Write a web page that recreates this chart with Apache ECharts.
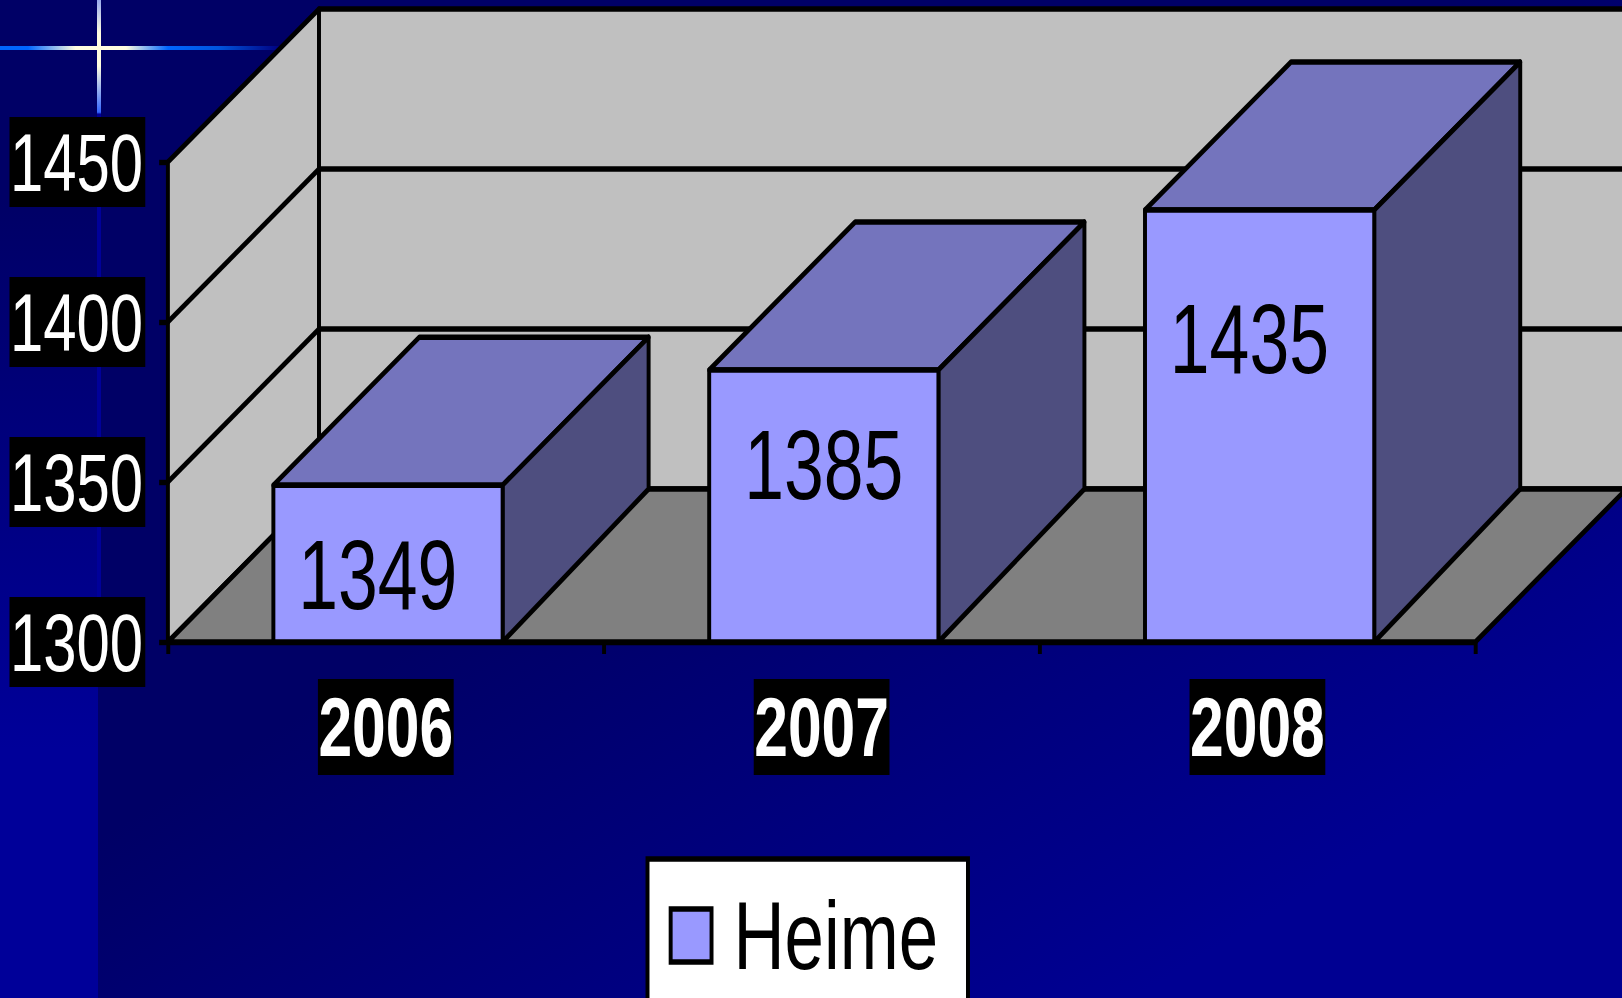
<!DOCTYPE html>
<html>
<head>
<meta charset="utf-8">
<title>Heime</title>
<script src="https://cdn.jsdelivr.net/npm/echarts@6/dist/echarts.min.js"></script>
<style>
  html, body { margin: 0; height: 100%; overflow: hidden; }
  /* slide background: dark navy, lighter to the lower right, with a left strip and a star */
  #slide {
    position: relative; width: 1622px; height: 998px; overflow: hidden;
    background: linear-gradient(to bottom right, #000066 45%, #000092 85%);
  }
  #strip {
    position: absolute; left: 0; top: 0; width: 98px; height: 998px;
    background: linear-gradient(180deg, #000066 0%, #000066 20%, #000099 75%, #000099 100%);
  }
  #starH {
    position: absolute; left: 0; top: 46px; width: 280px; height: 4px;
    background: linear-gradient(90deg, #0066ff 0%, #0066ff 10%, #fffde0 27%, #fffde0 45%, #0066ff 60%, #0055dd 78%, #000080 100%);
  }
  #starV {
    position: absolute; left: 97px; top: 0; width: 4px; height: 660px;
    background: linear-gradient(180deg, #99aaee 0%, #fffde0 5%, #fffde0 10%, #3366ff 17%, #000099 17.3%);
  }
  /* the source picture is squeezed horizontally, text and lines included */
  #chart {
    position: absolute; left: 0; top: 0; width: 2222px; height: 998px;
    transform: scaleX(0.73); transform-origin: 0 0;
  }
</style>
</head>
<body>
<div id="slide">
  <div id="strip"></div>
  <div id="starH"></div>
  <div id="starV"></div>
  <div id="chart"></div>
</div>
<script>
const seriesName = 'Heime'
const categories = ['2006', '2007', '2008']
const values = [1349, 1385, 1435]
const yMin = 1300
const yMax = 1450
const yStep = 50
const yTicks = [1300, 1350, 1400, 1450]

// depth of the fake 3D box, in chart pixels
const DEPTH_X = 207
const DEPTH_Y = 153
const BAR_DEPTH_X = 200
const BAR_DEPTH_Y = 148
const LINE_W = 5.4
const FONT = '"Liberation Sans", Arial, sans-serif'

// the value labels were placed by hand in the source
const labelShiftX = [-14, 0, -14]
const labelShiftY = [90, 95, 129]

const chart = echarts.init(document.getElementById('chart'), null, { renderer: 'svg' })

const edge = { stroke: '#000', lineWidth: LINE_W, lineJoin: 'round' }

function poly(points, fill) {
  return { type: 'polygon', shape: { points }, style: { fill, ...edge } }
}

function line(p1, p2) {
  return { type: 'line', shape: { x1: p1[0], y1: p1[1], x2: p2[0], y2: p2[1] }, style: { ...edge } }
}

// walls, floor and the gridlines running along them
function renderBox(params, api) {
  const cs = params.coordSys
  const left = cs.x
  const right = cs.x + cs.width
  const top = cs.y
  const bottom = cs.y + cs.height
  const children = [
    poly([[left, top], [left + DEPTH_X, top - DEPTH_Y], [left + DEPTH_X, bottom - DEPTH_Y], [left, bottom]], '#c0c0c0'),
    poly([[left + DEPTH_X, top - DEPTH_Y], [right + DEPTH_X, top - DEPTH_Y], [right + DEPTH_X, bottom - DEPTH_Y], [left + DEPTH_X, bottom - DEPTH_Y]], '#c0c0c0'),
    poly([[left, bottom], [left + DEPTH_X, bottom - DEPTH_Y], [right + DEPTH_X, bottom - DEPTH_Y], [right, bottom]], '#808080')
  ]
  yTicks.slice(1, -1).forEach(t => {
    const y = api.coord([0, t])[1]
    children.push(line([left, y], [left + DEPTH_X, y - DEPTH_Y]))
    children.push(line([left + DEPTH_X, y - DEPTH_Y], [right + DEPTH_X, y - DEPTH_Y]))
  })
  return { type: 'group', children }
}

function renderBar(params, api) {
  const idx = api.value(0)
  const top = api.coord([idx, api.value(1)])
  const base = api.coord([idx, yMin])
  const w = api.size([1, 0])[0] * 0.526
  const x0 = top[0] - w / 2 + 3
  const x1 = x0 + w
  const dx = BAR_DEPTH_X
  const dy = BAR_DEPTH_Y
  return {
    type: 'group',
    children: [
      poly([[x0, top[1]], [x0 + dx, top[1] - dy], [x1 + dx, top[1] - dy], [x1, top[1]]], '#7474bd'),
      poly([[x1, top[1]], [x1 + dx, top[1] - dy], [x1 + dx, base[1] - DEPTH_Y], [x1, base[1]]], '#4e4e7f'),
      poly([[x0, top[1]], [x1, top[1]], [x1, base[1]], [x0, base[1]]], '#9999ff'),
      {
        type: 'text',
        x: (x0 + x1) / 2 + labelShiftX[idx],
        y: top[1] + labelShiftY[idx],
        style: {
          text: String(api.value(1)),
          fill: '#000',
          font: '98px ' + FONT,
          textAlign: 'center',
          textVerticalAlign: 'middle'
        }
      }
    ]
  }
}

const option = {
  animation: false,
  backgroundColor: 'transparent',
  grid: { left: 230, right: 201, top: 162, bottom: 356, containLabel: false },
  legend: {
    data: [{ name: seriesName, icon: 'rect' }],
    left: 887,
    top: 859,
    padding: [28, 41, 30, 29],
    backgroundColor: '#fff',
    borderColor: '#000',
    borderWidth: LINE_W,
    itemWidth: 56,
    itemHeight: 53,
    itemGap: 0,
    itemStyle: { color: '#9999ff', borderColor: '#000', borderWidth: LINE_W },
    textStyle: { color: '#000', fontSize: 97, fontFamily: FONT, padding: [0, 0, 0, 25] }
  },
  xAxis: {
    type: 'category',
    data: categories,
    axisLine: { show: true, onZero: false, lineStyle: { color: '#000', width: LINE_W } },
    axisTick: { show: true, alignWithLabel: false, length: 12, lineStyle: { color: '#000', width: LINE_W } },
    axisLabel: {
      color: '#fff',
      fontSize: 83,
      fontWeight: 'bold',
      fontFamily: FONT,
      backgroundColor: '#000',
      width: 186,
      height: 96,
      lineHeight: 96,
      align: 'center',
      margin: 37
    }
  },
  yAxis: {
    type: 'value',
    min: yMin,
    max: yMax,
    interval: yStep,
    axisLine: { show: true, lineStyle: { color: '#000', width: LINE_W } },
    axisTick: { show: true, length: 12, lineStyle: { color: '#000', width: LINE_W } },
    splitLine: { show: false },
    axisLabel: {
      formatter: v => String(v),
      color: '#fff',
      fontSize: 82,
      fontFamily: FONT,
      backgroundColor: '#000',
      width: 183,
      height: 90,
      lineHeight: 90,
      align: 'right',
      padding: [0, 3, 0, 0],
      margin: 31
    }
  },
  series: [
    {
      name: 'box',
      type: 'custom',
      coordinateSystem: 'cartesian2d',
      renderItem: renderBox,
      data: [[0, yMin]],
      silent: true,
      z: 1,
      clip: false
    },
    {
      name: seriesName,
      type: 'custom',
      coordinateSystem: 'cartesian2d',
      renderItem: renderBar,
      data: categories.map((c, i) => [i, values[i]]),
      itemStyle: { color: '#9999ff' },
      z: 3,
      clip: false
    }
  ]
}

chart.setOption(option)
</script>
</body>
</html>
